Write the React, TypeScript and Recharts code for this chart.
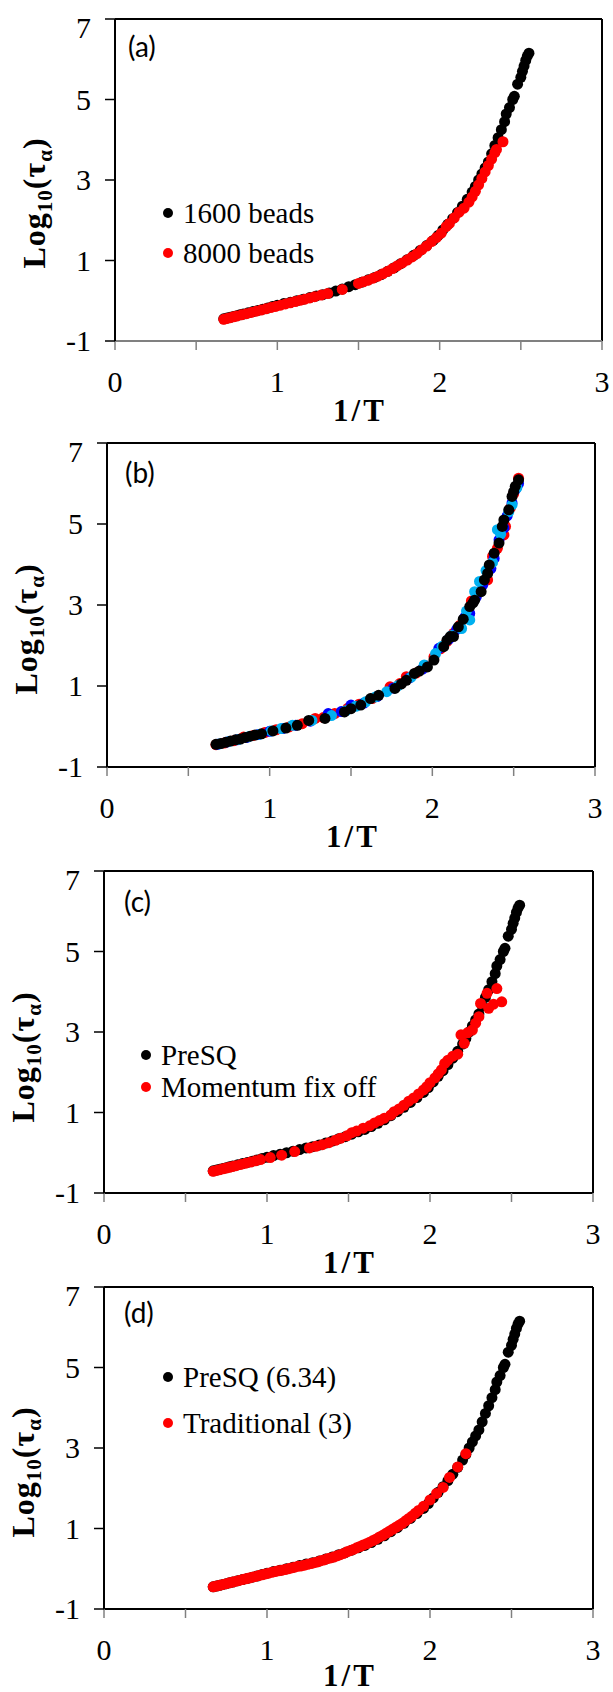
import React from 'react';
import { ScatterChart, Scatter, XAxis, YAxis, ReferenceLine } from 'recharts';

type Pt = [number, number];

const xTicks = [0, 0.5, 1, 1.5, 2, 2.5, 3];
const yTicks = [-1, 1, 3, 5, 7];

// 1600 beads / PreSQ (same run in a, c and d)
const preSQ: Pt[] = [
  [0.67, -0.45], [0.69, -0.43], [0.71, -0.41], [0.73, -0.39], [0.75, -0.37], [0.77, -0.35],
  [0.79, -0.33], [0.82, -0.3], [0.85, -0.27], [0.88, -0.24], [0.91, -0.21], [0.94, -0.18],
  [0.97, -0.14], [1.0, -0.11], [1.04, -0.07], [1.08, -0.04], [1.12, 0.0], [1.16, 0.04],
  [1.2, 0.08], [1.24, 0.12], [1.28, 0.15], [1.32, 0.19], [1.36, 0.24], [1.4, 0.29],
  [1.44, 0.35], [1.48, 0.4], [1.52, 0.46], [1.56, 0.52], [1.6, 0.58], [1.64, 0.65],
  [1.68, 0.73], [1.72, 0.82], [1.76, 0.92], [1.8, 1.02], [1.84, 1.13], [1.88, 1.25],
  [1.92, 1.37], [1.96, 1.5], [1.99, 1.62], [2.02, 1.76], [2.05, 1.9], [2.08, 2.04],
  [2.11, 2.19], [2.14, 2.35], [2.17, 2.52], [2.2, 2.7], [2.22, 2.84], [2.24, 3.0],
  [2.26, 3.15], [2.28, 3.3], [2.3, 3.45], [2.32, 3.65], [2.34, 3.86], [2.36, 4.05],
  [2.38, 4.25], [2.4, 4.45], [2.41, 4.64], [2.43, 4.8], [2.45, 5.0], [2.46, 5.08],
  [2.48, 5.38], [2.5, 5.55], [2.51, 5.7], [2.52, 5.83], [2.53, 5.97], [2.54, 6.08], [2.55, 6.15],
];

// (a) 8000 beads
const beads8000: Pt[] = [
  [0.67, -0.46], [0.69, -0.44], [0.71, -0.42], [0.73, -0.4], [0.75, -0.38], [0.78, -0.35],
  [0.81, -0.32], [0.84, -0.29], [0.87, -0.26], [0.9, -0.23], [0.93, -0.2], [0.96, -0.17],
  [0.99, -0.14], [1.02, -0.11], [1.05, -0.08], [1.08, -0.05], [1.11, -0.02], [1.14, 0.01],
  [1.17, 0.04], [1.2, 0.07], [1.23, 0.1], [1.27, 0.14], [1.31, 0.18], [1.4, 0.28],
  [1.5, 0.43], [1.53, 0.47], [1.56, 0.51], [1.59, 0.56], [1.62, 0.61], [1.65, 0.67],
  [1.68, 0.73], [1.71, 0.8], [1.74, 0.87], [1.77, 0.94], [1.8, 1.01], [1.83, 1.09],
  [1.86, 1.17], [1.89, 1.27], [1.92, 1.36], [1.95, 1.47], [1.98, 1.57], [2.01, 1.68],
  [2.04, 1.84], [2.06, 1.92], [2.09, 2.06], [2.12, 2.2], [2.15, 2.3], [2.18, 2.45],
  [2.2, 2.58], [2.22, 2.72], [2.24, 2.88], [2.26, 3.04], [2.28, 3.2], [2.3, 3.36],
  [2.32, 3.52], [2.34, 3.68], [2.35, 3.76], [2.39, 3.95],
];

// (b) four overlapping runs
const bRed: Pt[] = [
  [0.67, -0.45], [0.72, -0.41], [0.78, -0.35], [0.84, -0.26], [0.9, -0.22], [0.97, -0.15],
  [1.04, -0.08], [1.12, -0.01], [1.2, 0.07], [1.28, 0.2], [1.33, 0.22], [1.4, 0.32],
  [1.48, 0.45], [1.55, 0.55], [1.63, 0.69], [1.74, 0.98], [1.8, 1.06], [1.84, 1.23],
  [1.9, 1.32], [1.96, 1.5], [2.01, 1.72], [2.05, 1.92], [2.09, 2.1], [2.13, 2.3],
  [2.17, 2.5], [2.21, 2.71], [2.24, 3.1], [2.28, 3.3], [2.34, 3.62], [2.37, 4.2],
  [2.4, 4.4], [2.44, 4.73], [2.45, 4.94], [2.48, 5.4], [2.5, 5.75], [2.53, 6.13],
];
const bBlue: Pt[] = [
  [0.68, -0.44], [0.74, -0.38], [0.8, -0.33], [0.86, -0.27], [0.93, -0.2], [1.0, -0.12],
  [1.08, -0.05], [1.16, 0.03], [1.25, 0.13], [1.36, 0.32], [1.44, 0.37], [1.5, 0.53],
  [1.58, 0.58], [1.66, 0.74], [1.76, 0.95], [1.86, 1.2], [1.94, 1.42], [2.04, 1.93],
  [2.1, 2.15], [2.15, 2.4], [2.2, 2.7], [2.23, 2.79], [2.27, 3.2], [2.31, 3.5],
  [2.36, 3.9], [2.38, 4.15], [2.41, 4.61], [2.44, 4.9], [2.46, 5.2], [2.49, 5.52],
  [2.51, 5.85], [2.53, 6.0],
];
const bCyan: Pt[] = [
  [0.69, -0.43], [0.75, -0.37], [0.81, -0.32], [0.87, -0.25], [0.94, -0.19], [1.01, -0.11],
  [1.07, -0.05], [1.14, 0.03], [1.26, 0.15], [1.38, 0.27], [1.47, 0.39], [1.53, 0.5],
  [1.59, 0.61], [1.65, 0.73], [1.72, 0.86], [1.79, 1.01], [1.87, 1.22], [1.95, 1.52],
  [2.02, 1.8], [2.06, 1.98], [2.12, 2.25], [2.18, 2.42], [2.23, 2.63], [2.21, 2.85],
  [2.26, 3.33], [2.29, 3.58], [2.33, 3.85], [2.37, 4.05], [2.4, 4.86], [2.42, 4.75],
  [2.47, 5.3], [2.49, 5.47], [2.52, 5.9],
];
const bBlack: Pt[] = [
  [0.67, -0.44], [0.7, -0.42], [0.73, -0.39], [0.76, -0.36], [0.79, -0.33], [0.82, -0.31],
  [0.85, -0.27], [0.88, -0.24], [0.91, -0.21], [0.95, -0.18], [1.02, -0.11], [1.1, -0.04],
  [1.17, 0.03], [1.24, 0.15], [1.34, 0.2], [1.46, 0.36], [1.5, 0.44], [1.56, 0.53],
  [1.62, 0.69], [1.67, 0.77], [1.77, 0.94], [1.81, 1.05], [1.84, 1.14], [1.89, 1.31],
  [1.92, 1.37], [1.97, 1.47], [2.01, 1.64], [2.07, 1.97], [2.09, 2.13], [2.11, 2.22],
  [2.13, 2.22], [2.16, 2.46], [2.19, 2.65], [2.23, 2.96], [2.25, 3.05], [2.26, 3.12],
  [2.3, 3.33], [2.32, 3.62], [2.34, 3.78], [2.35, 3.99], [2.38, 4.28], [2.41, 4.53],
  [2.43, 4.94], [2.44, 5.1], [2.47, 5.35], [2.49, 5.68], [2.5, 5.8], [2.51, 5.93], [2.53, 6.09],
];

// (c) momentum fix off
const momentumOff: Pt[] = [
  [0.67, -0.46], [0.69, -0.44], [0.71, -0.42], [0.73, -0.4], [0.75, -0.38], [0.77, -0.36],
  [0.79, -0.34], [0.81, -0.32], [0.84, -0.29], [0.87, -0.26], [0.9, -0.23], [0.93, -0.2],
  [0.96, -0.17], [1.02, -0.12], [1.09, -0.06], [1.17, 0.03], [1.26, 0.12], [1.3, 0.16],
  [1.34, 0.2], [1.38, 0.25], [1.42, 0.31], [1.45, 0.36], [1.49, 0.42], [1.52, 0.5],
  [1.55, 0.54], [1.59, 0.61], [1.63, 0.67], [1.66, 0.74], [1.69, 0.8], [1.72, 0.86],
  [1.76, 0.94], [1.78, 1.02], [1.81, 1.09], [1.84, 1.18], [1.87, 1.28], [1.9, 1.36],
  [1.93, 1.46], [1.96, 1.56], [1.98, 1.64], [2.0, 1.74], [2.03, 1.86], [2.05, 1.96],
  [2.07, 2.06], [2.09, 2.22], [2.11, 2.3], [2.14, 2.4], [2.17, 2.45], [2.19, 2.93],
  [2.21, 2.72], [2.23, 2.98], [2.26, 3.05], [2.28, 3.22], [2.3, 3.38], [2.31, 3.71],
  [2.35, 3.96], [2.36, 3.59], [2.39, 3.69], [2.41, 4.08], [2.44, 3.75],
];

// (d) traditional (3)
const traditional: Pt[] = [
  [0.67, -0.45], [0.69, -0.43], [0.71, -0.41], [0.73, -0.39], [0.75, -0.37], [0.77, -0.35],
  [0.79, -0.33], [0.81, -0.31], [0.83, -0.29], [0.85, -0.27], [0.87, -0.25], [0.89, -0.23],
  [0.91, -0.21], [0.93, -0.19], [0.95, -0.17], [0.97, -0.15], [0.99, -0.13], [1.01, -0.11],
  [1.03, -0.09], [1.05, -0.07], [1.07, -0.05], [1.09, -0.04], [1.11, -0.02], [1.13, 0.0],
  [1.15, 0.02], [1.17, 0.04], [1.19, 0.06], [1.21, 0.07], [1.23, 0.09], [1.25, 0.11],
  [1.27, 0.13], [1.29, 0.15], [1.31, 0.17], [1.33, 0.2], [1.35, 0.22], [1.37, 0.25],
  [1.39, 0.27], [1.41, 0.29], [1.43, 0.32], [1.45, 0.35], [1.47, 0.38], [1.49, 0.42],
  [1.51, 0.45], [1.53, 0.48], [1.55, 0.52], [1.57, 0.55], [1.59, 0.59], [1.61, 0.62],
  [1.63, 0.66], [1.65, 0.7], [1.67, 0.74], [1.69, 0.79], [1.71, 0.83], [1.73, 0.88],
  [1.75, 0.93], [1.77, 0.98], [1.79, 1.03], [1.81, 1.08], [1.83, 1.13], [1.85, 1.19],
  [1.87, 1.25], [1.89, 1.31], [1.91, 1.38], [1.93, 1.45], [1.96, 1.55], [2.0, 1.71],
  [2.04, 1.87], [2.08, 2.02], [2.12, 2.27], [2.17, 2.53], [2.22, 2.86],
];

const serif = "'Liberation Serif', 'Times New Roman', serif";
const sans = "Lato, 'Open Sans', sans-serif";

type Box = { left: number; top: number; right: number; bottom: number };
type Series = { data: Pt[]; color: string };

const dot = (color: string) => (p: any) => <circle cx={p.cx} cy={p.cy} r={5.5} fill={color} />;

const XTick = (p: any) => {
  const v = p.payload.value;
  if (!Number.isInteger(v)) return <g />;
  return (
    <text x={p.x} y={p.y + 42} textAnchor="middle" fontFamily={serif} fontSize={30} fill="#000">
      {v}
    </text>
  );
};

const YTick = (p: any) => {
  const v = p.payload.value;
  return (
    <text x={p.x - 14} y={p.y + 10 + (v === 7 ? 9 : 0)} textAnchor="end" fontFamily={serif} fontSize={30} fill="#000">
      {v}
    </text>
  );
};

function Panel({ box, series, axisColor }: { box: Box; series: Series[]; axisColor: string }) {
  const chartTop = box.top - 19;
  const height = 19 + (box.bottom - box.top) + 85;
  return (
    <div style={{ position: 'absolute', left: 0, top: chartTop }}>
      <ScatterChart width={613} height={height} margin={{ top: 19, right: 613 - box.right, bottom: 0, left: 0 }}>
        <XAxis
          type="number" dataKey="x" domain={[0, 3]} ticks={xTicks} interval={0} height={85}
          tickSize={9} tickMargin={0} tick={XTick} allowDataOverflow
          tickLine={{ stroke: '#808080', strokeWidth: 1.5 }}
          axisLine={{ stroke: axisColor, strokeWidth: 2 }}
        />
        <YAxis
          type="number" dataKey="y" domain={[-1, 7]} ticks={yTicks} interval={0} width={box.left}
          tickSize={10} tickMargin={0} tick={YTick} allowDataOverflow
          tickLine={{ stroke: '#000', strokeWidth: 1.5 }}
          axisLine={{ stroke: '#000', strokeWidth: 2 }}
        />
        <ReferenceLine y={7} stroke="#000" strokeWidth={2} />
        <ReferenceLine x={3} stroke="#000" strokeWidth={2} />
        {series.map((s, i) => (
          <Scatter
            key={i}
            data={s.data.map(([x, y]) => ({ x, y }))}
            fill={s.color}
            shape={dot(s.color)}
            isAnimationActive={false}
          />
        ))}
      </ScatterChart>
    </div>
  );
}

function YTitle({ x, y }: { x: number; y: number }) {
  return (
    <text transform={`translate(${x},${y}) rotate(-90)`} textAnchor="middle" fontFamily={serif} fontWeight="bold" fontSize={32} letterSpacing={1} fill="#000">
      Log
      <tspan fontSize={21} dy={7}>10</tspan>
      <tspan dy={-7}>(τ</tspan>
      <tspan fontSize={21} dy={7}>α</tspan>
      <tspan dy={-7}>)</tspan>
    </text>
  );
}

function XTitle({ x, y }: { x: number; y: number }) {
  return (
    <text x={x} y={y} textAnchor="middle" fontFamily={serif} fontWeight="bold" fontSize={31} letterSpacing={3} fill="#000">
      1/T
    </text>
  );
}

function LegendItem({ x, y, color, label }: { x: number; y: number; color: string; label: string }) {
  return (
    <g>
      <circle cx={x} cy={y} r={5} fill={color} />
      <text x={x + 15} y={y + 10} fontFamily={serif} fontSize={29} fill="#000">{label}</text>
    </g>
  );
}

function Tag({ x, y, label }: { x: number; y: number; label: string }) {
  return <text x={x} y={y} fontFamily={sans} fontSize={28} fill="#000">{label}</text>;
}

const boxA: Box = { left: 115, top: 19, right: 602, bottom: 341 };
const boxB: Box = { left: 107, top: 443, right: 595, bottom: 767 };
const boxC: Box = { left: 104, top: 871, right: 593, bottom: 1193 };
const boxD: Box = { left: 104, top: 1287, right: 593, bottom: 1609 };

export default function App() {
  return (
    <div style={{ position: 'absolute', left: 0, top: 0, width: 613, height: 1692, background: '#fff', overflow: 'hidden' }}>
      <Panel box={boxA} axisColor="#808080" series={[{ data: preSQ, color: '#000' }, { data: beads8000, color: '#ff0000' }]} />
      <Panel
        box={boxB}
        axisColor="#000"
        series={[
          { data: bRed, color: '#ff0000' },
          { data: bBlue, color: '#0000ff' },
          { data: bCyan, color: '#00b0f0' },
          { data: bBlack, color: '#000' },
        ]}
      />
      <Panel box={boxC} axisColor="#000" series={[{ data: preSQ, color: '#000' }, { data: momentumOff, color: '#ff0000' }]} />
      <Panel box={boxD} axisColor="#000" series={[{ data: preSQ, color: '#000' }, { data: traditional, color: '#ff0000' }]} />

      <svg width={613} height={1692} style={{ position: 'absolute', left: 0, top: 0, pointerEvents: 'none' }}>
        <YTitle x={45} y={203} />
        <YTitle x={37} y={629} />
        <YTitle x={34} y={1057} />
        <YTitle x={34} y={1472} />

        <XTitle x={360} y={421} />
        <XTitle x={353} y={847} />
        <XTitle x={350} y={1273} />
        <XTitle x={350} y={1686} />

        <Tag x={128} y={57} label="(a)" />
        <Tag x={125} y={483} label="(b)" />
        <Tag x={124} y={912} label="(c)" />
        <Tag x={124} y={1323} label="(d)" />

        <LegendItem x={168} y={213} color="#000" label="1600 beads" />
        <LegendItem x={168} y={253} color="#ff0000" label="8000 beads" />
        <LegendItem x={146} y={1055} color="#000" label="PreSQ" />
        <LegendItem x={146} y={1087} color="#ff0000" label="Momentum fix off" />
        <LegendItem x={168} y={1377} color="#000" label="PreSQ (6.34)" />
        <LegendItem x={168} y={1423} color="#ff0000" label="Traditional (3)" />
      </svg>
    </div>
  );
}
